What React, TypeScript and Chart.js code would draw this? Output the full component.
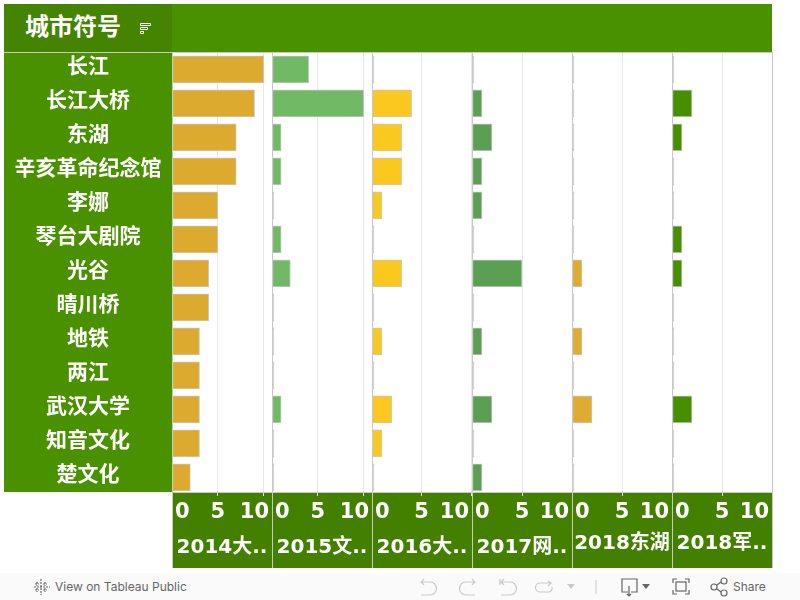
import React, { useEffect, useRef } from "react";
import { Chart, registerables } from "chart.js";

Chart.register(...registerables);

const cities = ["长江", "长江大桥", "东湖", "辛亥革命纪念馆", "李娜", "琴台大剧院", "光谷", "晴川桥", "地铁", "两江", "武汉大学", "知音文化", "楚文化"];
const panelNames = ["2014大..", "2015文..", "2016大..", "2017网..", "2018东湖", "2018军.."];
const values2014 = [10, 9, 7, 7, 5, 5, 4, 4, 3, 3, 3, 3, 2];
const values2015 = [4, 10, 1, 1, 0, 1, 2, 0, 0, 0, 1, 0, 0];
const values2016 = [0, 4, 3, 3, 1, 0, 3, 0, 1, 0, 2, 1, 0];
const values2017 = [0, 1, 2, 1, 1, 0, 5, 0, 1, 0, 2, 0, 1];
const valuesLake = [0, 0, 0, 0, 0, 0, 1, 0, 1, 0, 2, 0, 0];
const valuesArmy = [0, 2, 1, 0, 0, 1, 1, 0, 0, 0, 2, 0, 0];
const panelValues = [values2014, values2015, values2016, values2017, valuesLake, valuesArmy];
const panelColors = ["#ddaa30", "#72b966", "#fac81e", "#5ba052", "#deab33", "#488f00"];
const panelMax = [10.9, 10.9, 10.1, 10, 10, 10];
const titlePad = [8, 8, 8, 8, 12, 12];

const FONT = '"DejaVu Sans", "Noto Sans CJK SC", sans-serif';
const GREEN = "#4a9100";
const DARK = "#438000";
const LINE = "#c9c9c9";
const GRID = "#e8e8e8";

const panelPlugin = {
  id: "panelPlugin",
  afterLayout(chart: any) {
    const ctx = chart.ctx;
    const area = chart.chartArea;
    const y = chart.scales.y;
    y._startPixel = area.top + 0.3;
    y._length = 442;
    y._endPixel = y._startPixel + y._length;
    Object.values(chart.scales).forEach((scale: any) => {
      const items = scale.getLabelItems(area);
      items.forEach((item: any) => {
        const t = item.options.translation;
        if (scale.axis === "y") {
          t[0] = (scale.left + scale.right) / 2;
          t[1] -= 2;
          item.options.textAlign = "center";
        } else {
          ctx.save();
          ctx.font = item.font.string;
          const half = ctx.measureText(String(item.label)).width / 2;
          ctx.restore();
          t[0] = Math.min(Math.max(t[0], scale.left + 3 + half), scale.right - 3 - half);
        }
      });
    });
  },
  beforeDraw(chart: any) {
    const { ctx, chartArea: a, scales } = chart;
    ctx.save();
    ctx.fillStyle = GREEN;
    ctx.fillRect(scales.y.left, a.top, a.left - scales.y.left, a.bottom - a.top);
    ctx.fillRect(a.left, 4, a.right - a.left, a.top - 4);
    ctx.fillStyle = DARK;
    ctx.fillRect(a.left, a.bottom, a.right - a.left, scales.x0.bottom - a.bottom);
    ctx.restore();
  },
  afterDraw(chart: any) {
    const { ctx, chartArea: a, scales } = chart;
    ctx.save();
    ctx.strokeStyle = LINE;
    ctx.lineWidth = 1;
    const edges = panelNames.map((_, i) => scales["x" + i].left);
    edges.push(a.right);
    ctx.beginPath();
    edges.forEach((x: number) => {
      const px = Math.round(x) + 0.5;
      ctx.moveTo(px, a.top);
      ctx.lineTo(px, scales.x0.bottom);
    });
    ctx.moveTo(scales.y.left, Math.round(a.top) + 0.5);
    ctx.lineTo(a.right, Math.round(a.top) + 0.5);
    ctx.moveTo(a.left, Math.round(a.bottom) + 0.5);
    ctx.lineTo(a.right, Math.round(a.bottom) + 0.5);
    ctx.stroke();
    ctx.restore();
  },
};

function Footer() {
  const stroke = "#c9c9c9";
  const dark = "#666";
  return (
    <div style={{ position: "absolute", left: 0, top: 573, width: 800, height: 27, background: "#fafafa", fontFamily: "Inter, 'Open Sans', sans-serif", fontSize: 12, color: dark }}>
      <svg width="800" height="27" style={{ position: "absolute", left: 0, top: 0 }}>
        <g stroke={dark} strokeWidth="1.2" fill="none">
          <path d="M41 6v16M34 14h16M37 9v4M35 11h4M45 9v4M43 11h4M37 15v4M35 17h4M45 15v4M43 17h4" strokeDasharray="2 1" />
        </g>
        <g stroke={stroke} strokeWidth="1.2" fill="none">
          <path d="M421 9h9a6 6 0 0 1 0 13h-9M424 6l-3 3 3 3" />
          <path d="M475 9h-9a6 6 0 0 0 0 13h9M472 6l3 3-3 3" />
          <path d="M501 9h9a6 6 0 0 1 0 13h-9M504 6l-3 3 3 3M500 6v6" />
          <path d="M550 10h-10a4 4 0 0 0 0 9h8a4 4 0 0 0 4-5M548 8l3 2-3 3" />
        </g>
        <path d="M567 11h8l-4 5z" fill={stroke} />
        <path d="M596 7v14" stroke={stroke} strokeWidth="1" />
        <g stroke={dark} strokeWidth="1.2" fill="none">
          <path d="M628 19h-6V6h15v13h-6M629 13v10M627 21l2 2 2-2" />
          <path d="M673 10V6h4M685 6h4v4M689 17v4h-4M677 21h-4v-4" />
          <rect x="676" y="9" width="10" height="9" />
          <circle cx="714" cy="14" r="3" />
          <circle cx="724" cy="8" r="3" />
          <circle cx="724" cy="20" r="3" />
          <path d="M717 12l4-3M717 16l4 3" />
        </g>
        <path d="M642 11h8l-4 5z" fill={dark} />
      </svg>
      <span style={{ position: "absolute", left: 55, top: 6 }}>View on Tableau Public</span>
      <span style={{ position: "absolute", left: 733, top: 6 }}>Share</span>
    </div>
  );
}

export default function App() {
  const ref = useRef<HTMLCanvasElement>(null);
  useEffect(() => {
    const scales: any = {
      y: {
        type: "category",
        position: "left",
        afterFit: (s: any) => { s.width = 168; },
        grid: { display: false, drawTicks: false },
        border: { display: false },
        ticks: { color: "#fff", autoSkip: false, padding: 10, font: { family: FONT, size: 21, weight: "bold" } },
      },
    };
    panelNames.forEach((name, i) => {
      scales["x" + i] = {
        type: "linear",
        position: "bottom",
        stack: "panels",
        stackWeight: 1,
        min: 0,
        max: panelMax[i],
        afterFit: (s: any) => { s.height = 76; },
        border: { display: false },
        grid: {
          color: (c: any) => (c.tick && c.tick.value === 0 ? "rgba(0,0,0,0)" : GRID),
          tickColor: (c: any) => (c.tick && c.tick.value === 0 ? "rgba(0,0,0,0)" : GRID),
          tickLength: 4,
        },
        ticks: {
          stepSize: 5,
          includeBounds: false,
          autoSkip: false,
          maxRotation: 0,
          color: "#fff",
          padding: 4,
          font: { family: FONT, size: 21, weight: "bold" },
        },
        title: {
          display: true,
          text: name,
          color: "#fff",
          padding: { top: 0, bottom: titlePad[i] },
          font: { family: FONT, size: 20, weight: "bold" },
        },
      };
    });
    const chart = new Chart(ref.current as HTMLCanvasElement, {
      type: "bar",
      data: {
        labels: cities,
        datasets: panelNames.map((name, i) => ({
          label: name,
          data: panelValues[i],
          xAxisID: "x" + i,
          yAxisID: "y",
          grouped: false,
          backgroundColor: (c: any) => (c.raw === 0 ? LINE : panelColors[i]),
          borderColor: LINE,
          borderWidth: 1,
          borderSkipped: false,
          barThickness: 27,
          minBarLength: 2,
        })),
      } as any,
      options: {
        indexAxis: "y",
        animation: false,
        responsive: false,
        maintainAspectRatio: false,
        layout: { padding: { left: 4, right: 28, top: 52, bottom: 32 } },
        plugins: { legend: { display: false }, tooltip: { enabled: false } },
        scales,
      } as any,
      plugins: [panelPlugin],
    });
    return () => chart.destroy();
  }, []);
  return (
    <div style={{ position: "absolute", left: 0, top: 0, width: 800, height: 600, overflow: "hidden", background: "#fff" }}>
      <canvas ref={ref} width={800} height={600} style={{ display: "block", width: 800, height: 600 }} />
      <div style={{ position: "absolute", left: 4, top: 4, width: 168, height: 48, background: "#458400", color: "#fff" }}>
        <span style={{ position: "absolute", left: 21, top: 6, fontFamily: FONT, fontWeight: "bold", fontSize: 24, lineHeight: "34px", whiteSpace: "nowrap" }}>城市符号</span>
        <svg width="14" height="14" style={{ position: "absolute", left: 135, top: 18 }}>
          <path d="M1.5 1.5h10v2h-10zM1.5 5.5h7v2h-7zM1.5 9.5h3v2h-3z" fill="#458400" stroke="#fff" strokeWidth="1" />
        </svg>
      </div>
      <Footer />
    </div>
  );
}
